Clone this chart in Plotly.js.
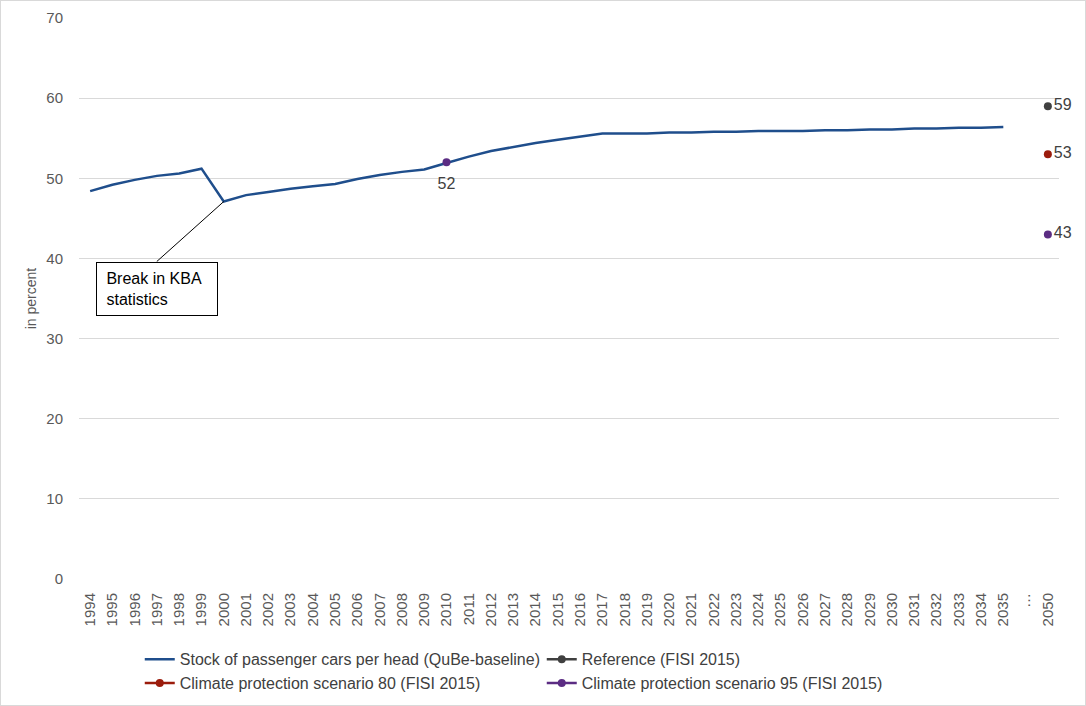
<!DOCTYPE html>
<html>
<head>
<meta charset="utf-8">
<script src="https://cdn.plot.ly/plotly-3.0.1.min.js"></script>
<style>
html,body{margin:0;padding:0;background:#fff;}
#chart{width:1086px;height:706px;box-sizing:border-box;border:1px solid #d9d9d9;}
</style>
</head>
<body>
<div id="chart"></div>
<script>
// Categories (x axis)
var categories = ['1994','1995','1996','1997','1998','1999','2000','2001','2002','2003',
  '2004','2005','2006','2007','2008','2009','2010','2011','2012','2013','2014','2015',
  '2016','2017','2018','2019','2020','2021','2022','2023','2024','2025','2026','2027',
  '2028','2029','2030','2031','2032','2033','2034','2035','…','2050'];

// Stock of passenger cars per head (QuBe-baseline), 1994–2035
var baselineYears = categories.slice(0, 42);
var baselineValues = [48.4,49.2,49.8,50.3,50.6,51.2,47.1,47.9,48.3,48.7,
  49.0,49.3,49.9,50.4,50.8,51.1,51.9,52.7,53.4,53.9,54.4,54.8,
  55.2,55.6,55.6,55.6,55.7,55.7,55.8,55.8,55.9,55.9,55.9,56.0,
  56.0,56.1,56.1,56.2,56.2,56.3,56.3,56.4];

// FISI 2015 scenario points
var referenceX = ['2050'];
var referenceY = [59];
var cps80X = ['2050'];
var cps80Y = [53];
var cps95X = ['2010','…','2050'];
var cps95Y = [52, null, 43];

// Point labels
var label2010X = ['2010'];
var label2010Y = [52];
var label2010Text = ['52'];
var label2050X = ['2050','2050','2050'];
var label2050Y = [59, 53, 43];
var label2050Text = ['59','53','43'];

// Break annotation
var breakYear = '2000';
var breakText = '&nbsp;Break in KBA<br>&nbsp;statistics';

var FONT = 'Liberation Sans, Arial, sans-serif';
var tickFont = {family:FONT, size:15, color:'#595959'};
var labelFont = {family:FONT, size:16, color:'#404040'};

var traces = [
  {x: baselineYears, y: baselineValues, type:'scatter', mode:'lines',
   name:'Stock of passenger cars per head (QuBe-baseline)',
   line:{color:'#1f4e8c', width:2.5}},
  {x: referenceX, y: referenceY, type:'scatter', mode:'lines+markers',
   name:'Reference (FISI 2015)', cliponaxis:false,
   line:{color:'#404040', width:2.5}, marker:{color:'#404040', size:8}},
  {x: cps80X, y: cps80Y, type:'scatter', mode:'lines+markers',
   name:'Climate protection scenario 80 (FISI 2015)', cliponaxis:false,
   line:{color:'#9b1c0c', width:2.5}, marker:{color:'#9b1c0c', size:8}},
  {x: cps95X, y: cps95Y, type:'scatter', mode:'lines+markers', connectgaps:false,
   name:'Climate protection scenario 95 (FISI 2015)', cliponaxis:false,
   line:{color:'#5b2c83', width:2.5}, marker:{color:'#5b2c83', size:8}},
  {x: label2010X, y: label2010Y, type:'scatter', mode:'markers+text', text: label2010Text,
   textposition:'bottom center', showlegend:false, cliponaxis:false,
   marker:{size:22, opacity:0}, textfont:labelFont},
  {x: label2050X, y: label2050Y, type:'scatter', mode:'markers+text', text: label2050Text,
   textposition:'middle right', showlegend:false, cliponaxis:false,
   marker:{size:8, opacity:0}, textfont:labelFont}
];

var layout = {
  width:1084, height:704,
  margin:{l:78, r:26, t:17, b:126},
  paper_bgcolor:'#fff', plot_bgcolor:'#fff',
  font:{family:FONT, size:15, color:'#404040'},
  xaxis:{type:'category', categoryorder:'array', categoryarray:categories,
    tickmode:'array', tickvals:categories, ticktext:categories,
    tickangle:-90, tickfont:tickFont, showgrid:false, zeroline:false,
    showline:false, ticks:'', ticklabelstandoff:10, automargin:false,
    range:[-0.5, 43.5], fixedrange:true},
  yaxis:{range:[0,70], dtick:10, tickfont:tickFont, gridcolor:'#d9d9d9', gridwidth:1,
    zeroline:false, showline:false, ticks:'', ticklabelstandoff:15, automargin:false,
    title:{text:'in percent', font:{family:FONT, size:14, color:'#595959'}, standoff:6},
    fixedrange:true},
  showlegend:true,
  legend:{orientation:'h', x:0.062, xref:'paper', y:0.089, yref:'container',
    xanchor:'left', yanchor:'top',
    entrywidth:357, entrywidthmode:'pixels', traceorder:'normal',
    font:{family:FONT, size:16, color:'#404040'}, bgcolor:'rgba(0,0,0,0)', itemwidth:30,
    tracegroupgap:0},
  annotations:[{
    x: categories.indexOf(breakYear), y: baselineValues[categories.indexOf(breakYear)],
    xref:'x', yref:'y',
    text: breakText, align:'left',
    showarrow:true, arrowhead:0, arrowwidth:1, arrowcolor:'#000',
    ax:-67, ay:60, xanchor:'center', yanchor:'top',
    width:110, height:42, borderpad:5, bordercolor:'#000', borderwidth:1,
    bgcolor:'#fff', font:{family:FONT, size:16, color:'#000'}
  }]
};

Plotly.newPlot('chart', traces, layout, {displayModeBar:false, staticPlot:true});
</script>
</body>
</html>
